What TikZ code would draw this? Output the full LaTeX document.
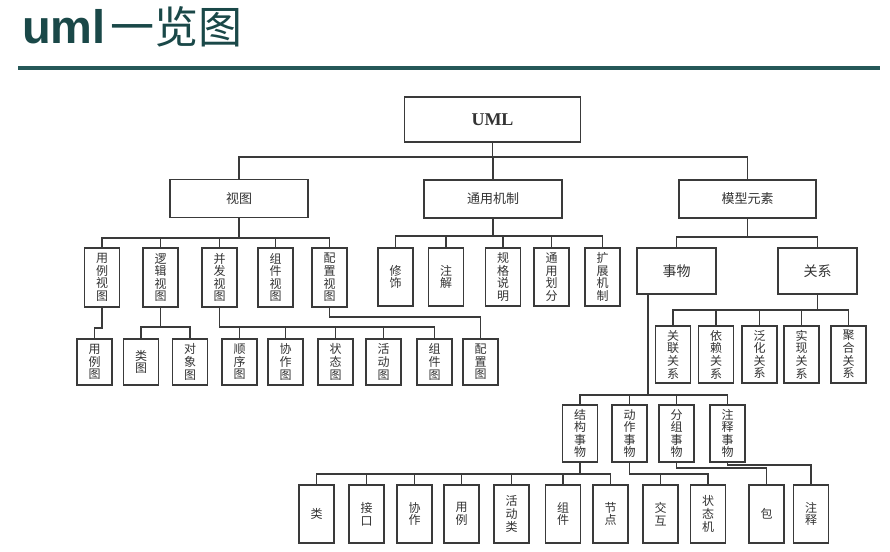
\documentclass[tikz,border=0pt]{standalone}
\usepackage{fontspec}
\usepackage{xcolor}
\usepackage{tikz}
\usetikzlibrary{positioning,calc}
\setmainfont{Liberation Serif}
\newfontfamily\cjk{Noto Sans CJK SC}
\newfontfamily\titlesans{Liberation Sans}
\definecolor{titleteal}{HTML}{1A4848}
\definecolor{ruleteal}{HTML}{255858}
\definecolor{boxline}{HTML}{3A3A3A}
\definecolor{boxtext}{HTML}{333333}

\begin{document}
\begin{tikzpicture}[
    x=1pt, y=-1pt,
    every node/.style={font=\cjk},
    box/.style={draw=boxline, line width=1.5pt, fill=white, inner sep=0pt, text=boxtext, align=center},
    hbox/.style={box, minimum width=138pt, minimum height=38pt, font=\cjk\fontsize{13}{15}\selectfont},
    vbox/.style={box, minimum width=35pt, font=\cjk\fontsize{12}{12.6}\selectfont},
    link/.style={draw=boxline, line width=1.5pt}
]
    \useasboundingbox (0,0) rectangle (890,551);

    % Title
    \node[anchor=base west, inner sep=0pt, text=titleteal, font=\titlesans\bfseries\fontsize{47}{47}\selectfont] (title) at (22,44) {uml};
    \node[anchor=base west, inner sep=0pt, text=titleteal, font=\cjk\fontsize{44}{44}\selectfont, xshift=4pt] (titlecn) at (title.base east) {一览图};
    \draw[ruleteal, line width=4pt] (18,68) -- (880,68);

    % Bus levels
    \coordinate (busTop) at (0,157);
    \coordinate (busView) at (0,238);
    \coordinate (busMech) at (0,236);
    \coordinate (busModel) at (0,237);
    \coordinate (busLog) at (0,327);
    \coordinate (busUc) at (0,328);
    \coordinate (busCon) at (0,327);
    \coordinate (busDep) at (0,317);
    \coordinate (busRel) at (0,310);
    \coordinate (busThing) at (0,395);
    \coordinate (busStruct) at (0,474);
    \coordinate (busBehav) at (0,474);
    \coordinate (busGroup) at (0,468);
    \coordinate (busAnnot) at (0,465);

    % Root and first level
    \node[box, minimum width=176pt, minimum height=45pt, font=\rmfamily\bfseries\fontsize{18}{20}\selectfont] (uml) at (492.5,119.5) {UML};
    \node[hbox] (view) at (239,198.5) {视图};
    \node[hbox] (mech) at (493,199) {通用机制};
    \node[hbox, minimum width=137pt] (model) at (747.5,199) {模型元素};

    % Views
    \node[vbox, minimum height=59pt] (ucv) at (102,277.5) {用\\例\\视\\图};
    \node[vbox, minimum height=59pt] (logv) at (160.5,277.5) {逻\\辑\\视\\图};
    \node[vbox, minimum height=59pt] (conv) at (219.5,277.5) {并\\发\\视\\图};
    \node[vbox, minimum height=59pt] (compv) at (275.5,277.5) {组\\件\\视\\图};
    \node[vbox, minimum height=59pt] (depv) at (329.5,277.5) {配\\置\\视\\图};

    % Diagrams
    \node[vbox, minimum height=46pt] (ucd) at (94.5,362) {用\\例\\图};
    \node[vbox, minimum height=46pt] (clsd) at (141,362) {类\\图};
    \node[vbox, minimum height=46pt] (objd) at (190,362) {对\\象\\图};
    \node[vbox, minimum height=46pt] (seqd) at (239.5,362) {顺\\序\\图};
    \node[vbox, minimum height=46pt] (colld) at (285.5,362) {协\\作\\图};
    \node[vbox, minimum height=46pt] (stated) at (335.5,362) {状\\态\\图};
    \node[vbox, minimum height=46pt] (actd) at (383.5,362) {活\\动\\图};
    \node[vbox, minimum height=46pt] (compd) at (434.5,362) {组\\件\\图};
    \node[vbox, minimum height=46pt] (depd) at (480.5,362) {配\\置\\图};

    % Common mechanisms
    \node[vbox, minimum height=58pt] (adorn) at (395.5,277) {修\\饰};
    \node[vbox, minimum height=58pt] (notem) at (446,277) {注\\解};
    \node[vbox, minimum height=58pt] (spec) at (503,277) {规\\格\\说\\明};
    \node[vbox, minimum height=58pt] (divm) at (551.5,277) {通\\用\\划\\分};
    \node[vbox, minimum height=58pt] (ext) at (602.5,277) {扩\\展\\机\\制};

    % Model elements
    \node[hbox, minimum width=79pt, minimum height=46pt, font=\cjk\fontsize{14}{16}\selectfont] (thing) at (676.5,271) {事物};
    \node[hbox, minimum width=79pt, minimum height=46pt, font=\cjk\fontsize{14}{16}\selectfont] (rel) at (817.5,271) {关系};

    % Relations
    \node[vbox, minimum height=57pt] (assoc) at (673,354.5) {关\\联\\关\\系};
    \node[vbox, minimum height=57pt] (depr) at (716,354.5) {依\\赖\\关\\系};
    \node[vbox, minimum height=57pt] (gen) at (759.5,354.5) {泛\\化\\关\\系};
    \node[vbox, minimum height=57pt] (real) at (801.5,354.5) {实\\现\\关\\系};
    \node[vbox, minimum height=57pt] (aggr) at (848.5,354.5) {聚\\合\\关\\系};

    % Things
    \node[vbox, minimum height=57pt] (struct) at (580,433.5) {结\\构\\事\\物};
    \node[vbox, minimum height=57pt] (behav) at (629.5,433.5) {动\\作\\事\\物};
    \node[vbox, minimum height=57pt] (group) at (676.5,433.5) {分\\组\\事\\物};
    \node[vbox, minimum height=57pt] (annot) at (727.5,433.5) {注\\释\\事\\物};

    % Leaves
    \node[vbox, minimum height=58pt] (cls) at (316.5,514) {类};
    \node[vbox, minimum height=58pt] (iface) at (366.5,514) {接\\口};
    \node[vbox, minimum height=58pt] (coll) at (414.5,514) {协\\作};
    \node[vbox, minimum height=58pt] (uc) at (461.5,514) {用\\例};
    \node[vbox, minimum height=58pt] (actcls) at (511.5,514) {活\\动\\类};
    \node[vbox, minimum height=58pt] (comp) at (563,514) {组\\件};
    \node[vbox, minimum height=58pt] (nodeb) at (610.5,514) {节\\点};
    \node[vbox, minimum height=58pt] (inter) at (660.5,514) {交\\互};
    \node[vbox, minimum height=58pt] (sm) at (708,514) {状\\态\\机};
    \node[vbox, minimum height=58pt] (pkg) at (766.5,514) {包};
    \node[vbox, minimum height=58pt] (notee) at (811,514) {注\\释};

    % Root links
    \draw[link] (uml.south) -- (uml.south |- busTop);
    \draw[link] (view.north) -- (view.north |- busTop) -| (model.north);
    \draw[link] (mech.north) -- (mech.north |- busTop);

    % View links
    \draw[link] (view.south) -- (view.south |- busView);
    \draw[link] (ucv.north) -- (ucv.north |- busView) -| (depv.north);
    \draw[link] (logv.north) -- (logv.north |- busView);
    \draw[link] (conv.north) -- (conv.north |- busView);
    \draw[link] (compv.north) -- (compv.north |- busView);
    \draw[link] (ucv.south) -- (ucv.south |- busUc) -| (ucd.north);
    \draw[link] (logv.south) -- (logv.south |- busLog);
    \draw[link] (clsd.north) -- (clsd.north |- busLog) -| (objd.north);
    \draw[link] (conv.south) -- (conv.south |- busCon) -| (compd.north);
    \draw[link] (seqd.north) -- (seqd.north |- busCon);
    \draw[link] (colld.north) -- (colld.north |- busCon);
    \draw[link] (stated.north) -- (stated.north |- busCon);
    \draw[link] (actd.north) -- (actd.north |- busCon);
    \draw[link] (depv.south) -- (depv.south |- busDep) -| (depd.north);

    % Mechanism links
    \draw[link] (mech.south) -- (mech.south |- busMech);
    \draw[link] (adorn.north) -- (adorn.north |- busMech) -| (ext.north);
    \draw[link] (notem.north) -- (notem.north |- busMech);
    \draw[link] (spec.north) -- (spec.north |- busMech);
    \draw[link] (divm.north) -- (divm.north |- busMech);

    % Model links
    \draw[link] (model.south) -- (model.south |- busModel);
    \draw[link] (thing.north) -- (thing.north |- busModel) -| (rel.north);
    \draw[link] (rel.south) -- (rel.south |- busRel);
    \draw[link] (assoc.north) -- (assoc.north |- busRel) -| (aggr.north);
    \draw[link] (depr.north) -- (depr.north |- busRel);
    \draw[link] (gen.north) -- (gen.north |- busRel);
    \draw[link] (real.north) -- (real.north |- busRel);
    \draw[link] ([xshift=-28.5pt]thing.south) -- ([xshift=-28.5pt]thing.south |- busThing);
    \draw[link] (struct.north) -- (struct.north |- busThing) -| (annot.north);
    \draw[link] (behav.north) -- (behav.north |- busThing);
    \draw[link] (group.north) -- (group.north |- busThing);

    % Thing links
    \draw[link] (struct.south) -- (struct.south |- busStruct);
    \draw[link] (cls.north) -- (cls.north |- busStruct) -| (nodeb.north);
    \draw[link] (iface.north) -- (iface.north |- busStruct);
    \draw[link] (coll.north) -- (coll.north |- busStruct);
    \draw[link] (uc.north) -- (uc.north |- busStruct);
    \draw[link] (actcls.north) -- (actcls.north |- busStruct);
    \draw[link] (comp.north) -- (comp.north |- busStruct);
    \draw[link] (behav.south) -- (behav.south |- busBehav) -| (sm.north);
    \draw[link] (inter.north) -- (inter.north |- busBehav);
    \draw[link] (group.south) -- (group.south |- busGroup) -| (pkg.north);
    \draw[link] (annot.south) -- (annot.south |- busAnnot) -| (notee.north);
\end{tikzpicture}
\end{document}
